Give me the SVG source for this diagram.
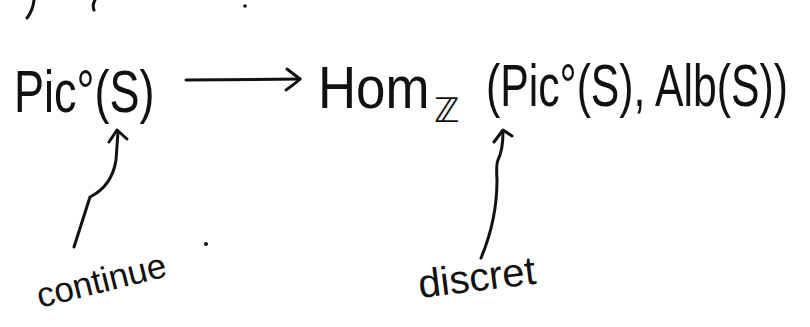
<svg xmlns="http://www.w3.org/2000/svg" width="810" height="327" viewBox="0 0 810 327">
<style>
.t{font-family:"Liberation Sans","DejaVu Sans",sans-serif;fill:#111}
.s{fill:none;stroke:#111;stroke-width:3;stroke-linecap:round;stroke-linejoin:round}
</style>
<rect width="810" height="327" fill="#fff"/>
<g id="top-fragments">
<path class="s" d="M27,18 Q33,10 34,0"/>
<path class="s" d="M95,0 Q92,5 94,10"/>
<circle cx="245" cy="6" r="1.8" fill="#111"/>
</g>
<g id="node-pic">
<text class="t" font-size="60" transform="translate(14,112) scale(0.75,1)">Pic°(S)</text>
</g>
<g id="node-hom">
<text class="t" font-size="60" transform="translate(318,108) scale(0.88,1)">Hom</text>
<text class="t" x="434" y="122" font-size="34">ℤ</text>
<text class="t" font-size="60" transform="translate(486,106) scale(0.712,1)">(Pic°(S), Alb(S))</text>
</g>
<g id="label-continue">
<text class="t" x="40" y="308" font-size="35" transform="rotate(-14 40 308)">continue</text>
</g>
<g id="label-discret">
<text class="t" x="420" y="298" font-size="40" transform="rotate(-7 420 298)">discret</text>
</g>
<circle cx="206" cy="244" r="2" fill="#111"/>
<g id="connectors">
<path class="s" d="M186,80 L300,79"/>
<path class="s" d="M287,69 Q296,76 300,79 Q296,83 286,90"/>
<path class="s" d="M74,247 L90,197 Q112,186 116,160 L118,132"/>
<path class="s" d="M109,142 L117,130 L127,139"/>
<path class="s" d="M481,258 Q497,220 497,180 Q496,165 498,160 Q503,150 503,132"/>
<path class="s" d="M494,142 L503,130 L512,136"/>
</g>
</svg>
